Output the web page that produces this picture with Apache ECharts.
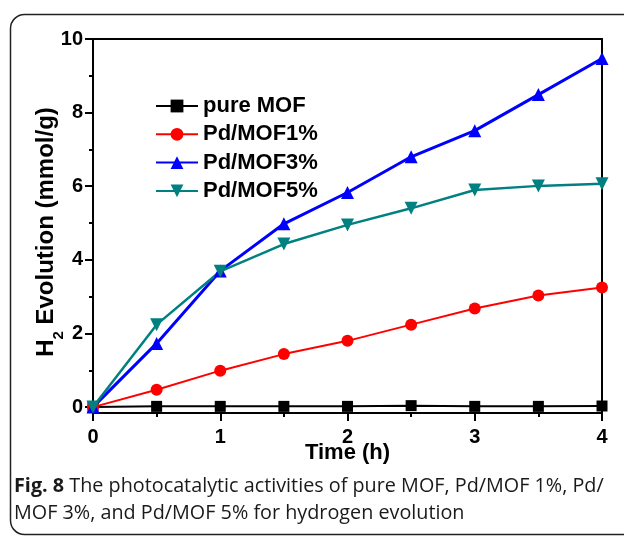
<!DOCTYPE html>
<html>
<head>
<meta charset="utf-8">
<script src="https://cdn.jsdelivr.net/npm/echarts@6/dist/echarts.min.js"></script>
<style>html,body{margin:0;padding:0;background:#fff;}#c{width:624px;height:537px;}</style>
</head>
<body>
<div id="c"></div>
<script>
var timeH = [0, 0.5, 1, 1.5, 2, 2.5, 3, 3.5, 4];
var pureMOF = [0, 0.02, 0.02, 0.02, 0.02, 0.04, 0.02, 0.02, 0.03];
var pdMOF1 = [0, 0.47, 0.99, 1.44, 1.80, 2.24, 2.68, 3.03, 3.25];
var pdMOF3 = [0, 1.73, 3.70, 4.98, 5.83, 6.80, 7.51, 8.49, 9.47];
var pdMOF5 = [0, 2.24, 3.69, 4.43, 4.95, 5.40, 5.90, 6.01, 6.07];
var seriesNames = ['pure MOF', 'Pd/MOF1%', 'Pd/MOF3%', 'Pd/MOF5%'];
var yLabelValues = [0, 2, 4, 6, 8, 10];
var yMinorValues = [1, 3, 5, 7, 9];
var captionBold = 'Fig. 8';
var captionLine1 = ' The photocatalytic activities of pure MOF, Pd/MOF 1%, Pd/';
var captionLine2 = 'MOF 3%, and Pd/MOF 5% for hydrogen evolution';

function pairs(ys) { return timeH.map(function (x, i) { return [x, ys[i]]; }); }

var chart = echarts.init(document.getElementById('c'), null, {renderer: 'canvas'});
var FONT = 'Liberation Sans';
var option = {
  backgroundColor: '#fff',
  animation: false,
  grid: {left: 93, right: 22, top: 39, bottom: 124, show: true, borderColor: '#000', borderWidth: 2, backgroundColor: 'transparent'},
  legend: {
    orient: 'vertical', left: 155, top: 95, padding: 0,
    itemWidth: 42, itemHeight: 16, itemGap: 6.3,
    data: seriesNames,
    textStyle: {fontFamily: FONT, fontWeight: 'bold', fontSize: 22, lineHeight: 22, color: '#000'}
  },
  xAxis: {
    type: 'value', min: 0, max: 4, interval: 1,
    name: 'Time (h)', nameLocation: 'middle', nameGap: 29, nameMoveOverlap: false,
    nameTextStyle: {fontFamily: FONT, fontWeight: 'bold', fontSize: 22, color: '#000'},
    axisLine: {show: true, onZero: false, lineStyle: {color: '#000', width: 2}},
    axisTick: {show: true, length: 8, lineStyle: {color: '#000', width: 2}},
    minorTick: {show: true, splitNumber: 2, length: 4, lineStyle: {color: '#000', width: 2}},
    axisLabel: {margin: 14, fontFamily: FONT, fontWeight: 'bold', fontSize: 20, color: '#000'},
    splitLine: {show: false}
  },
  yAxis: [{
    type: 'value', min: -0.16, max: 10,
    name: '{a|H}{s|2}{a| Evolution (mmol/g)}', nameLocation: 'middle', nameGap: 35, nameRotate: 90, nameMoveOverlap: false,
    nameTextStyle: {
      fontFamily: FONT, fontWeight: 'bold', fontSize: 24, color: '#000', padding: [0, 12, 0, 0],
      rich: {
        a: {fontFamily: FONT, fontWeight: 'bold', fontSize: 24, color: '#000'},
        s: {fontFamily: FONT, fontWeight: 'bold', fontSize: 15, color: '#000', verticalAlign: 'bottom', padding: [0, 0, -8, 0]}
      }
    },
    axisLine: {show: true, onZero: false, lineStyle: {color: '#000', width: 2}},
    axisTick: {show: true, length: 8, customValues: yLabelValues, lineStyle: {color: '#000', width: 2}},
    axisLabel: {margin: 10, customValues: yLabelValues, fontFamily: FONT, fontWeight: 'bold', fontSize: 20, color: '#000'},
    splitLine: {show: false}
  }, {
    type: 'value', min: -0.16, max: 10, position: 'left',
    axisLine: {show: false},
    axisTick: {show: true, length: 4, customValues: yMinorValues, lineStyle: {color: '#000', width: 2}},
    axisLabel: {show: false},
    splitLine: {show: false}
  }],
  series: [
    {name: seriesNames[0], type: 'line', data: pairs(pureMOF), symbol: 'rect', symbolSize: 11,
     itemStyle: {color: '#000'}, lineStyle: {color: '#000', width: 2}},
    {name: seriesNames[1], type: 'line', data: pairs(pdMOF1), symbol: 'circle', symbolSize: 12,
     itemStyle: {color: '#ff0000'}, lineStyle: {color: '#ff0000', width: 2}},
    {name: seriesNames[2], type: 'line', data: pairs(pdMOF3), symbol: 'triangle', symbolSize: 13,
     itemStyle: {color: '#0000ff'}, lineStyle: {color: '#0000ff', width: 3}},
    {name: seriesNames[3], type: 'line', data: pairs(pdMOF5), symbol: 'triangle', symbolRotate: 180, symbolSize: 13,
     itemStyle: {color: '#008080'}, lineStyle: {color: '#008080', width: 2.5}}
  ],
  graphic: [
    {type: 'rect', silent: true, shape: {x: 10.5, y: 14.5, width: 700, height: 520, r: 14},
     style: {fill: 'none', stroke: '#222', lineWidth: 1.5}},
    {type: 'text', left: 14, top: 476,
     style: {
       text: '{b|' + captionBold + '}{n|' + captionLine1 + '}\n{n|' + captionLine2 + '}',
       rich: {
         b: {fontFamily: 'Open Sans', fontWeight: 'bold', fontSize: 19.8, lineHeight: 27, fill: '#1a1a1a'},
         n: {fontFamily: 'Open Sans', fontSize: 19.8, lineHeight: 27, fill: '#1a1a1a'}
       }
     }}
  ]
};
chart.setOption(option);
</script>
</body>
</html>
